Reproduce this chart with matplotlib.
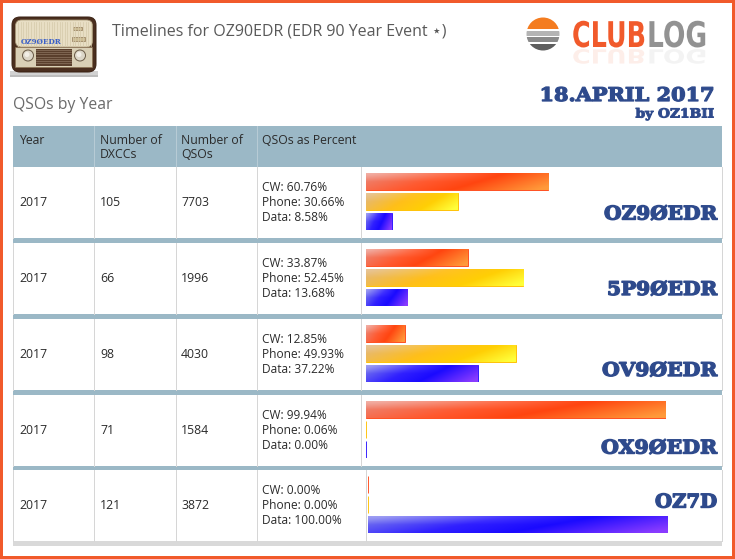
import numpy as np
import matplotlib
matplotlib.use('Agg')
import matplotlib.pyplot as plt
from matplotlib.patches import Rectangle, FancyBboxPatch, Circle
from matplotlib.patheffects import AbstractPathEffect
from matplotlib.transforms import Affine2D
from matplotlib.colors import to_rgb

plt.rcParams['font.family'] = ['Open Sans', 'DejaVu Sans']

# ---------------- data ----------------
years = ['2017', '2017', '2017', '2017', '2017']
dxccs = [105, 66, 98, 71, 121]
qsos = [7703, 1996, 4030, 1584, 3872]
cw_pct = [60.76, 33.87, 12.85, 99.94, 0.00]
phone_pct = [30.66, 52.45, 49.93, 0.06, 0.00]
data_pct = [8.58, 13.68, 37.22, 0.00, 100.00]
callsigns = ['OZ9ØEDR', '5P9ØEDR', 'OV9ØEDR', 'OX9ØEDR', 'OZ7D']
header_labels = ['Year', 'Number of\nDXCCs', 'Number of\nQSOs', 'QSOs as Percent']
title_text = 'Timelines for OZ90EDR (EDR 90 Year Event \u22c6)'
subtitle_text = 'QSOs by Year'
date_text = '18.APRIL 2017'
by_text = 'by OZ1BII'

# ---------------- layout / style ----------------
W, H = 735, 559
ORANGE = '#f15a2b'
HEAD = '#9bb8c6'
NAVY = '#2e4a8c'
GRID = '#d6d6d6'
TXT = '#2b2b2b'
row_tops = [167, 243, 319, 395, 470]
row_h = 71
band_h = [5, 5, 5, 4]
col_x = [13, 94, 176, 257]
text_x = [19, 100, 181, 262]
div_x = [361, 361, 361, 361, 366]
bar_left = [366, 366, 366, 366, 368]
call_base = [219.5, 295, 376, 453.5, 507.5]
call_w = [113, 110, 115, 116, 62]
TL, TR = 13, 722


class Scale(AbstractPathEffect):
    """Horizontal/vertical scaling of a text's glyph outlines, optional bolder stroke
    and optional faint mirrored reflection."""
    def __init__(self, sx, x0, sy=1.0, y0=0.0, stroke=0.0, reflect=None):
        super().__init__((0, 0))
        self.sx, self.x0, self.sy, self.y0 = sx, x0, sy, y0
        self.stroke = stroke
        self.reflect = reflect  # (sy, y0_display, alpha)

    def _tr(self, sy, y0):
        return Affine2D().translate(-self.x0, -y0).scale(self.sx, sy).translate(self.x0, y0)

    def draw_path(self, renderer, gc, tpath, affine, rgbFace=None):
        t = affine + self._tr(self.sy, self.y0)
        gc0 = renderer.new_gc()
        gc0.copy_properties(gc)
        if self.stroke > 0 and rgbFace is not None:
            gc0.set_linewidth(self.stroke)
            gc0.set_foreground(rgbFace)
            gc0.set_joinstyle('round')
        renderer.draw_path(gc0, tpath, t, rgbFace)
        gc0.restore()
        if self.reflect is not None:
            rsy, ry0, ralpha = self.reflect
            gc1 = renderer.new_gc()
            gc1.copy_properties(gc)
            gc1.set_alpha(ralpha)
            renderer.draw_path(gc1, tpath, affine + self._tr(rsy, ry0), rgbFace)
            gc1.restore()


fig = plt.figure(figsize=(W / 100, H / 100), dpi=100)
fig.patch.set_facecolor('white')
ax = fig.add_axes([0, 0, 1, 1])
ax.set_xlim(0, W)
ax.set_ylim(H, 0)
ax.axis('off')
renderer = fig.canvas.get_renderer()


def width_of(t):
    return t.get_window_extent(renderer).width


def squeeze(t, target_w, anchor_x, stroke=0.0, reflect=None):
    sx = target_w / width_of(t)
    t.set_path_effects([Scale(sx, anchor_x, stroke=stroke, reflect=reflect)])
    return sx


def fit_size(t, target_w):
    t.set_fontsize(t.get_fontsize() * target_w / width_of(t))


def px(lw):
    return lw * 0.72

# border
for r in [(0, 0, W, 3), (0, H - 3, W, 3), (0, 0, 3, H), (W - 3, 0, 3, H)]:
    ax.add_patch(Rectangle((r[0], r[1]), r[2], r[3], fc=ORANGE, ec='none', zorder=10))

# ---------------- radio icon ----------------
ax.add_patch(Rectangle((10, 71), 88, 5, fc='#d2d2d2', ec='none'))
ax.add_patch(Rectangle((10, 75), 88, 2, fc='#bdbdbd', ec='none'))
ax.add_patch(FancyBboxPatch((12, 17), 84, 55, boxstyle='round,pad=0,rounding_size=8',
                            fc='#4a2e1e', ec='#3a2214', lw=px(1)))
ax.add_patch(FancyBboxPatch((15.5, 20), 77, 27, boxstyle='round,pad=0,rounding_size=6',
                            fc='#e8dec4', ec='#a89878', lw=px(0.8)))
for gx in np.arange(18, 91, 2.6):
    ax.plot([gx, gx], [22, 46], color='#d5c9aa', lw=px(0.7))
ax.add_patch(Rectangle((73, 27), 9, 3, fc='#cbbb92', ec='#8a7050', lw=px(0.6)))
ax.add_patch(Rectangle((72, 37), 13, 4, fc='#cbbb92', ec='#8a7050', lw=px(0.6)))
ax.text(41, 41.5, 'OZ9ØEDR', fontsize=5.2, family='DejaVu Serif', weight='bold',
        color='#3a5fc8', ha='center', va='center')
ax.add_patch(Rectangle((15.5, 47), 77, 20, fc='#d9cfb5', ec='#8a7050', lw=px(0.6)))
ax.add_patch(Rectangle((36, 48.5), 36, 17, fc='#5a3f2c', ec='none'))
for gy in np.arange(50, 65, 2.2):
    ax.plot([36.5, 71.5], [gy, gy], color='#8c7460', lw=px(0.7))
for cx in (28, 80):
    ax.add_patch(Circle((cx, 55.5), 5.5, fc='#dcd6c8', ec='#6c5c48', lw=px(1)))
    ax.add_patch(Circle((cx - 1, 54.5), 2.5, fc='#f2eee6', ec='none'))

# ---------------- title ----------------
t_title = ax.text(112, 31, title_text, fontsize=11.5, color='#595959', ha='left', va='center')
fit_size(t_title, 335)

# ---------------- clublog logo ----------------
logo_c = (543, 34)
circ = Circle(logo_c, 16.5, fc='none', ec='none')
ax.add_patch(circ)
for y0, y1, col in [(17, 29, '#f47c20'), (30.5, 35.5, '#b4b4b4'), (37, 42, '#8a8a8a'), (43.5, 51, '#5e5e5e')]:
    rp = Rectangle((526, y0), 34, y1 - y0, fc=col, ec='none')
    ax.add_patch(rp)
    rp.set_clip_path(circ)
refl = (-0.55, H - 48.5, 0.10)
t_club = ax.text(646, 47, 'CLUB', fontsize=25.5, weight='bold', family='DejaVu Sans',
                 color=ORANGE, ha='right', va='baseline')
squeeze(t_club, 74, 646, reflect=refl)
t_log = ax.text(647, 47, 'LOG', fontsize=25.5, weight='bold', family='DejaVu Sans',
                color='#929292', ha='left', va='baseline')
squeeze(t_log, 60, 647, reflect=refl)

# ---------------- subtitle / date ----------------
t_sub = ax.text(13, 105, subtitle_text, fontsize=11.5, color='#6b6b6b', ha='left', va='center')
fit_size(t_sub, 99)
t_date = ax.text(714.5, 101, date_text, fontsize=13.6, family='DejaVu Serif', weight='bold',
                 color=NAVY, ha='right', va='baseline')
squeeze(t_date, 175, 714.5, stroke=0.9)
t_by = ax.text(714.5, 117.5, by_text, fontsize=9.0, family='DejaVu Serif', weight='bold',
               color=NAVY, ha='right', va='baseline')
squeeze(t_by, 79, 714.5, stroke=0.7)

# ---------------- table ----------------
ax.add_patch(Rectangle((TL, 126), TR - TL, 41, fc=HEAD, ec='none'))
for x in col_x[1:]:
    ax.plot([x, x], [126, 167], color='#b7cbd5', lw=px(1))
ax.text(text_x[0], 140, header_labels[0], fontsize=8.8, color=TXT, ha='left', va='center')
for k in (1, 2):
    a, b = header_labels[k].split('\n')
    ax.text(text_x[k], 140, a, fontsize=8.8, color=TXT, ha='left', va='center')
    ax.text(text_x[k], 154, b, fontsize=8.8, color=TXT, ha='left', va='center')
ax.text(text_x[3], 140, header_labels[3], fontsize=8.8, color=TXT, ha='left', va='center')

for i, top in enumerate(row_tops):
    ax.add_patch(Rectangle((TL, top), TR - TL, row_h, fc='white', ec='none'))
    for x in col_x + [div_x[i], TR]:
        ax.plot([x, x], [top, top + row_h], color=GRID, lw=px(1))
    if i < len(band_h):
        ax.add_patch(Rectangle((TL, top + row_h), TR - TL, band_h[i], fc=HEAD, ec='none'))
    else:
        ax.add_patch(Rectangle((TL, top + row_h), TR - TL, 5, fc='#d9d9d9', ec='none'))
    cy = top + row_h / 2
    ax.text(text_x[0], cy, years[i], fontsize=8.8, color=TXT, ha='left', va='center')
    ax.text(text_x[1], cy, str(dxccs[i]), fontsize=8.8, color=TXT, ha='left', va='center')
    ax.text(text_x[2], cy, str(qsos[i]), fontsize=8.8, color=TXT, ha='left', va='center')
    ax.text(text_x[3], cy - 15, f'CW: {cw_pct[i]:.2f}%', fontsize=8.6, color=TXT, ha='left', va='center')
    ax.text(text_x[3], cy, f'Phone: {phone_pct[i]:.2f}%', fontsize=8.6, color=TXT, ha='left', va='center')
    ax.text(text_x[3], cy + 15, f'Data: {data_pct[i]:.2f}%', fontsize=8.6, color=TXT, ha='left', va='center')
    tc = ax.text(717, call_base[i], callsigns[i], fontsize=13.6, family='DejaVu Serif',
                 weight='bold', color=NAVY, ha='right', va='baseline')
    squeeze(tc, call_w[i], 717, stroke=1.0)


# ---------------- gradient bars ----------------
def make_grad(stops, hl=0.3, n=24, m=256):
    xs = np.linspace(0, 1, m)[None, :]
    ys = np.linspace(0, 1, n)[:, None]
    u = np.clip(0.85 * xs + 0.25 * ys - 0.05, 0, 1)
    pos = [p for p, _ in stops]
    cols = np.array([to_rgb(c) for _, c in stops])
    img = np.stack([np.interp(u, pos, cols[:, k]) for k in range(3)], axis=-1)
    w = np.clip(1 - ys / 0.5, 0, 1)[..., None] * hl * np.clip(1 - xs * 1.4, 0, 1)[..., None]
    img = img * (1 - w) + w
    return np.clip(img, 0, 1)

grads = [
    make_grad([(0, '#ec8574'), (0.35, '#ff5a30'), (0.6, '#ff4510'), (1.0, '#ff9a3a')], hl=0.35),
    make_grad([(0, '#e4b87a'), (0.4, '#ffbf1a'), (0.7, '#ffcf05'), (1.0, '#ffff3a')], hl=0.2),
    make_grad([(0, '#7676ee'), (0.35, '#3020ff'), (0.6, '#1a0aff'), (1.0, '#8a3cff')], hl=0.3),
]
base_cols = ['#ff4a1a', '#ffc000', '#2a14ff']

for i, top in enumerate(row_tops):
    bax = fig.add_axes([bar_left[i] / W, 1 - (top + 6 + 57) / H, 300 / W, 57 / H])
    bax.axis('off')
    vals = [cw_pct[i], phone_pct[i], data_pct[i]]
    bars = bax.barh([0, 1, 2], vals, height=0.85, color=base_cols,
                    edgecolor=base_cols, linewidth=px(0.9), zorder=2)
    for bar, g in zip(bars, grads):
        x0, y0, bw, bh = bar.get_x(), bar.get_y(), bar.get_width(), bar.get_height()
        if bw > 0.5:
            im = bax.imshow(g, extent=(x0, x0 + bw, y0 + bh, y0), aspect='auto',
                            interpolation='bilinear', zorder=3)
            im.set_clip_path(bar)
    bax.set_xlim(0, 100)
    bax.set_ylim(2.425, -0.425)

fig.savefig('out.png', dpi=100)
